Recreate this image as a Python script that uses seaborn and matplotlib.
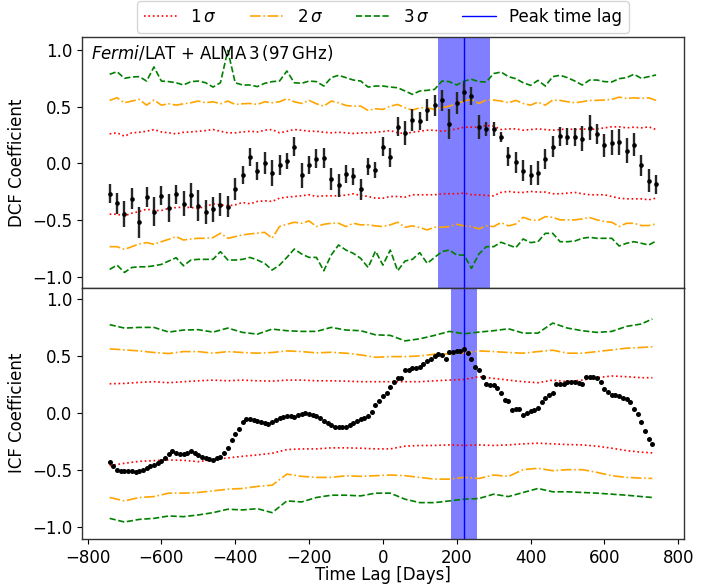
import numpy as np
import matplotlib
matplotlib.use('Agg')
import matplotlib.pyplot as plt
import seaborn as sns

# DCF (top panel), 20-day lag bins
dcf_lags = np.arange(-740, 741, 20)
dcf = [-0.268, -0.354, -0.446, -0.310, -0.520, -0.298, -0.425, -0.286, -0.396, -0.274,
       -0.357, -0.283, -0.372, -0.428, -0.407, -0.363, -0.381, -0.224, -0.102, 0.060,
       -0.064, 0.007, -0.085, -0.017, 0.022, 0.149, -0.105, -0.014, 0.043, 0.049,
       -0.135, -0.194, -0.091, -0.114, -0.230, -0.025, -0.058, 0.149, 0.054, 0.327,
       0.271, 0.383, 0.374, 0.475, 0.513, 0.558, 0.350, 0.537, 0.635, 0.596,
       0.321, 0.306, 0.306, 0.235, 0.063, 0.010, -0.064, -0.099, -0.085, 0.040,
       0.149, 0.241, 0.238, 0.235, 0.217, 0.315, 0.262, 0.161, 0.182, 0.188,
       0.114, 0.167, -0.017, -0.153, -0.185]
dcf_err = [0.084, 0.093, 0.115, 0.093, 0.136, 0.089, 0.130, 0.084, 0.126, 0.084,
           0.111, 0.111, 0.133, 0.108, 0.111, 0.104, 0.089, 0.096, 0.081, 0.081,
           0.081, 0.096, 0.114, 0.089, 0.067, 0.081, 0.111, 0.081, 0.081, 0.089,
           0.096, 0.104, 0.081, 0.074, 0.092, 0.074, 0.074, 0.081, 0.086, 0.084,
           0.104, 0.096, 0.081, 0.099, 0.092, 0.092, 0.133, 0.096, 0.089, 0.081,
           0.107, 0.059, 0.059, 0.047, 0.083, 0.095, 0.092, 0.089, 0.107, 0.086,
           0.090, 0.084, 0.078, 0.078, 0.111, 0.110, 0.089, 0.104, 0.110, 0.114,
           0.107, 0.101, 0.090, 0.101, 0.081]

dcf_3s_up = [0.789, 0.812, 0.753, 0.765, 0.768, 0.729, 0.854, 0.729, 0.724, 0.714,
             0.694, 0.724, 0.729, 0.714, 0.676, 0.714, 1.000, 0.714, 0.694, 0.694,
             0.680, 0.709, 0.724, 0.729, 0.818, 0.714, 0.709, 0.729, 0.724, 0.685,
             0.759, 0.780, 0.759, 0.738, 0.729, 0.676, 0.685, 0.685, 0.676, 0.670,
             0.641, 0.611, 0.641, 0.647, 0.655, 0.729, 0.724, 0.694, 0.729, 0.744,
             0.724, 0.721, 0.795, 0.809, 0.768, 0.750, 0.714, 0.691, 0.735, 0.685,
             0.768, 0.780, 0.759, 0.729, 0.694, 0.738, 0.738, 0.724, 0.721, 0.750,
             0.759, 0.789, 0.753, 0.768, 0.783]
dcf_2s_up = [0.558, 0.581, 0.537, 0.552, 0.567, 0.516, 0.561, 0.516, 0.528, 0.516,
             0.528, 0.537, 0.552, 0.537, 0.546, 0.528, 0.552, 0.522, 0.528, 0.531,
             0.522, 0.546, 0.537, 0.546, 0.573, 0.546, 0.531, 0.558, 0.528, 0.507,
             0.552, 0.537, 0.513, 0.507, 0.507, 0.469, 0.484, 0.478, 0.507, 0.522,
             0.493, 0.472, 0.493, 0.493, 0.478, 0.493, 0.507, 0.531, 0.552, 0.567,
             0.531, 0.561, 0.561, 0.552, 0.537, 0.558, 0.531, 0.516, 0.543, 0.516,
             0.561, 0.558, 0.546, 0.537, 0.546, 0.558, 0.558, 0.561, 0.567, 0.587,
             0.575, 0.581, 0.575, 0.581, 0.558]
dcf_1s_up = [0.262, 0.271, 0.241, 0.271, 0.276, 0.285, 0.300, 0.279, 0.271, 0.262,
             0.276, 0.279, 0.285, 0.291, 0.300, 0.285, 0.271, 0.271, 0.279, 0.285,
             0.279, 0.294, 0.300, 0.271, 0.285, 0.300, 0.294, 0.285, 0.285, 0.276,
             0.271, 0.276, 0.271, 0.265, 0.271, 0.271, 0.276, 0.282, 0.291, 0.271,
             0.265, 0.276, 0.285, 0.294, 0.294, 0.285, 0.294, 0.306, 0.321, 0.321,
             0.321, 0.336, 0.330, 0.300, 0.306, 0.306, 0.294, 0.300, 0.306, 0.300,
             0.294, 0.300, 0.306, 0.300, 0.306, 0.300, 0.306, 0.315, 0.324, 0.324,
             0.315, 0.321, 0.315, 0.324, 0.300]
dcf_1s_lo = [-0.449, -0.449, -0.464, -0.440, -0.425, -0.404, -0.416, -0.416, -0.396, -0.390,
             -0.387, -0.390, -0.396, -0.381, -0.357, -0.366, -0.375, -0.366, -0.345, -0.357,
             -0.336, -0.330, -0.336, -0.307, -0.298, -0.292, -0.286, -0.277, -0.292, -0.286,
             -0.286, -0.286, -0.280, -0.268, -0.283, -0.292, -0.307, -0.307, -0.292, -0.292,
             -0.298, -0.277, -0.277, -0.277, -0.277, -0.268, -0.268, -0.268, -0.262, -0.277,
             -0.277, -0.283, -0.286, -0.256, -0.247, -0.256, -0.256, -0.247, -0.253, -0.253,
             -0.268, -0.268, -0.262, -0.256, -0.268, -0.277, -0.277, -0.277, -0.292, -0.307,
             -0.313, -0.313, -0.313, -0.321, -0.307]
dcf_2s_lo = [-0.736, -0.736, -0.760, -0.736, -0.712, -0.700, -0.715, -0.692, -0.671, -0.647,
             -0.677, -0.668, -0.662, -0.662, -0.656, -0.617, -0.662, -0.647, -0.632, -0.623,
             -0.617, -0.609, -0.662, -0.558, -0.538, -0.520, -0.529, -0.508, -0.558, -0.538,
             -0.529, -0.529, -0.558, -0.529, -0.543, -0.543, -0.552, -0.558, -0.543, -0.520,
             -0.564, -0.552, -0.567, -0.588, -0.564, -0.564, -0.558, -0.538, -0.552, -0.558,
             -0.579, -0.552, -0.558, -0.523, -0.552, -0.535, -0.476, -0.499, -0.505, -0.470,
             -0.476, -0.499, -0.499, -0.499, -0.490, -0.478, -0.499, -0.514, -0.520, -0.558,
             -0.529, -0.529, -0.549, -0.549, -0.535]
dcf_3s_lo = [-0.937, -0.899, -0.964, -0.920, -0.914, -0.914, -0.905, -0.893, -0.863, -0.834,
             -0.905, -0.854, -0.848, -0.848, -0.848, -0.780, -0.854, -0.854, -0.848, -0.831,
             -0.854, -0.884, -0.943, -0.899, -0.831, -0.757, -0.801, -0.831, -0.831, -0.949,
             -0.810, -0.721, -0.766, -0.795, -0.840, -0.920, -0.775, -0.899, -0.766, -0.949,
             -0.863, -0.848, -0.789, -0.884, -0.831, -0.780, -0.766, -0.810, -0.810, -0.928,
             -0.801, -0.736, -0.736, -0.697, -0.721, -0.745, -0.668, -0.700, -0.692, -0.618,
             -0.618, -0.692, -0.692, -0.686, -0.662, -0.653, -0.662, -0.662, -0.662, -0.730,
             -0.706, -0.692, -0.706, -0.721, -0.686]

# ICF (bottom panel), 10-day lag steps
icf_lags = np.arange(-740, 731, 10)
icf = [-0.424, -0.459, -0.497, -0.506, -0.506, -0.506, -0.509, -0.518, -0.503, -0.494,
       -0.480, -0.465, -0.453, -0.438, -0.421, -0.388, -0.356, -0.332, -0.350, -0.359,
       -0.359, -0.344, -0.332, -0.347, -0.365, -0.380, -0.391, -0.403, -0.406, -0.394,
       -0.380, -0.350, -0.303, -0.238, -0.185, -0.138, -0.076, -0.053, -0.047, -0.059,
       -0.071, -0.079, -0.085, -0.094, -0.076, -0.059, -0.041, -0.032, -0.026, -0.026,
       -0.032, -0.018, -0.006, 0.003, -0.006, -0.018, -0.026, -0.038, -0.068, -0.082,
       -0.100, -0.121, -0.124, -0.124, -0.121, -0.100, -0.082, -0.068, -0.050, -0.038,
       -0.024, 0.012, 0.071, 0.112,
       0.150, 0.174, 0.232, 0.277, 0.312, 0.306, 0.377, 0.377, 0.397, 0.397,
       0.403, 0.430, 0.462, 0.477, 0.506, 0.518, 0.512, 0.477, 0.541, 0.541,
       0.544, 0.547, 0.562, 0.527, 0.477, 0.409, 0.380, 0.318, 0.256, 0.250,
       0.244, 0.224, 0.182, 0.118, 0.106, 0.026, 0.041, 0.038, -0.015, 0.003,
       0.018, 0.029, 0.047, 0.100, 0.135, 0.159, 0.174, 0.253, 0.259, 0.259,
       0.271, 0.277, 0.274, 0.268, 0.253, 0.321, 0.318, 0.321, 0.312, 0.277,
       0.209, 0.188, 0.162, 0.159, 0.153, 0.138, 0.129, 0.100, 0.041, -0.006,
       -0.079, -0.159, -0.224, -0.268]

sig_lags = list(range(-740, 701, 40)) + [730]
icf_3s_up = [0.777, 0.747, 0.753, 0.753, 0.712, 0.730, 0.733, 0.712, 0.747, 0.709,
             0.694, 0.738, 0.724, 0.718, 0.718, 0.753, 0.730, 0.724, 0.688,
             0.683, 0.635, 0.653, 0.683, 0.718, 0.697, 0.712, 0.724, 0.741, 0.703,
             0.703, 0.791, 0.747, 0.724, 0.709, 0.718, 0.762, 0.783, 0.827]
icf_2s_up = [0.565, 0.556, 0.547, 0.533, 0.524, 0.541, 0.541, 0.527, 0.541, 0.533,
             0.527, 0.533, 0.547, 0.541, 0.530, 0.535, 0.527, 0.512, 0.491,
             0.497, 0.497, 0.503, 0.518, 0.521, 0.527, 0.547, 0.541, 0.533, 0.527,
             0.541, 0.553, 0.527, 0.527, 0.541, 0.556, 0.571, 0.577, 0.583]
icf_1s_up = [0.259, 0.262, 0.271, 0.277, 0.268, 0.277, 0.285, 0.291, 0.285, 0.291,
             0.285, 0.282, 0.291, 0.291, 0.285, 0.285, 0.282, 0.277, 0.277,
             0.277, 0.277, 0.277, 0.285, 0.291, 0.297, 0.321, 0.306, 0.291, 0.277,
             0.268, 0.291, 0.277, 0.291, 0.312, 0.327, 0.321, 0.312, 0.312]
icf_1s_lo = [-0.459, -0.438, -0.421, -0.415, -0.409, -0.412, -0.424, -0.406, -0.391, -0.377,
             -0.365, -0.350, -0.318, -0.312, -0.312, -0.303, -0.303, -0.306, -0.312,
             -0.312, -0.288, -0.282, -0.282, -0.277, -0.282, -0.277, -0.282, -0.277, -0.268,
             -0.262, -0.268, -0.274, -0.277, -0.288, -0.306, -0.327, -0.341, -0.347]
icf_2s_lo = [-0.738, -0.768, -0.738, -0.730, -0.700, -0.700, -0.694, -0.680, -0.665, -0.659,
             -0.641, -0.630, -0.533, -0.553, -0.562, -0.562, -0.547, -0.553, -0.547,
             -0.541, -0.547, -0.562, -0.577, -0.577, -0.562, -0.571, -0.541, -0.553, -0.494,
             -0.482, -0.503, -0.494, -0.494, -0.518, -0.547, -0.562, -0.568, -0.571]
icf_3s_lo = [-0.921, -0.953, -0.930, -0.921, -0.900, -0.906, -0.891, -0.871, -0.841, -0.847,
             -0.836, -0.871, -0.768, -0.777, -0.738, -0.718, -0.718, -0.724, -0.700,
             -0.700, -0.753, -0.783, -0.783, -0.768, -0.753, -0.747, -0.709, -0.730, -0.694,
             -0.659, -0.688, -0.688, -0.694, -0.700, -0.709, -0.718, -0.730, -0.738]

peak_lag = 220
dcf_peak_err = 70
icf_peak_err = 35

sns.set_style('ticks')
plt.rcParams['font.family'] = ['DejaVu Sans']
plt.rcParams['mathtext.fontset'] = 'dejavusans'
plt.rcParams['font.size'] = 12
plt.rcParams['xtick.major.size'] = 3.5
plt.rcParams['ytick.major.size'] = 3.5
plt.rcParams['xtick.major.width'] = 0.8
plt.rcParams['ytick.major.width'] = 0.8
plt.rcParams['axes.linewidth'] = 1.0
plt.rcParams['axes.edgecolor'] = '0.2'
plt.rcParams['text.color'] = 'black'
plt.rcParams['xtick.color'] = 'black'
plt.rcParams['ytick.color'] = 'black'
plt.rcParams['axes.labelcolor'] = 'black'

fig, (ax1, ax2) = plt.subplots(2, 1, figsize=(7.16, 5.85), dpi=100, sharex=True)
fig.subplots_adjust(left=0.1145, right=0.955, top=0.937, bottom=0.079, hspace=0)

sig_styles = [('red', ':', r'1$\,\sigma$'),
              ('orange', '-.', r'2$\,\sigma$'),
              ('green', '--', r'3$\,\sigma$')]

# top: DCF
top_up = [dcf_1s_up, dcf_2s_up, dcf_3s_up]
top_lo = [dcf_1s_lo, dcf_2s_lo, dcf_3s_lo]
for (col, ls, lab), up, lo in zip(sig_styles, top_up, top_lo):
    sns.lineplot(x=dcf_lags, y=up, ax=ax1, color=col, linestyle=ls, lw=1.2, label=lab)
    sns.lineplot(x=dcf_lags, y=lo, ax=ax1, color=col, linestyle=ls, lw=1.2)
ax1.axvspan(peak_lag - dcf_peak_err, peak_lag + dcf_peak_err, color='blue', alpha=0.5, lw=0)
ax1.axvline(peak_lag, color='blue', lw=1, label='Peak time lag')
ax1.errorbar(dcf_lags, dcf, yerr=dcf_err, fmt='none', ecolor='0.15', elinewidth=1.7, zorder=3)
sns.scatterplot(x=dcf_lags, y=dcf, ax=ax1, color='k', s=11, linewidth=0, zorder=4)

ax1.text(0.015, 0.975, r'$\mathit{Fermi}$/LAT + ALMA$\,$3$\,$(97$\,$GHz)',
         transform=ax1.transAxes, va='top', ha='left', fontsize=12)
ax1.set_ylabel('DCF Coefficient', fontsize=12)
ax1.set_ylim(-1.1, 1.12)
ax1.set_yticks([-1.0, -0.5, 0.0, 0.5, 1.0])
ax1.legend(loc='lower center', bbox_to_anchor=(0.5, 1.0), ncol=4, fontsize=12,
           borderaxespad=0.25)

# bottom: ICF
bot_up = [icf_1s_up, icf_2s_up, icf_3s_up]
bot_lo = [icf_1s_lo, icf_2s_lo, icf_3s_lo]
for (col, ls, lab), up, lo in zip(sig_styles, bot_up, bot_lo):
    sns.lineplot(x=sig_lags, y=up, ax=ax2, color=col, linestyle=ls, lw=1.2)
    sns.lineplot(x=sig_lags, y=lo, ax=ax2, color=col, linestyle=ls, lw=1.2)
ax2.axvspan(peak_lag - icf_peak_err, peak_lag + icf_peak_err, color='blue', alpha=0.5, lw=0)
ax2.axvline(peak_lag, color='blue', lw=1)
sns.scatterplot(x=icf_lags, y=icf, ax=ax2, color='k', s=13, linewidth=0, zorder=4)

ax2.set_ylabel('ICF Coefficient', fontsize=12)
ax2.set_xlabel('Time Lag [Days]', fontsize=12, labelpad=-0.5)
ax2.set_ylim(-1.1, 1.1)
ax2.set_yticks([-1.0, -0.5, 0.0, 0.5, 1.0])
ax2.set_xlim(-815, 815)
ax2.set_xticks([-800, -600, -400, -200, 0, 200, 400, 600, 800])

for ax in (ax1, ax2):
    ax.tick_params(labelsize=12)

fig.savefig('out.png', dpi=100)
